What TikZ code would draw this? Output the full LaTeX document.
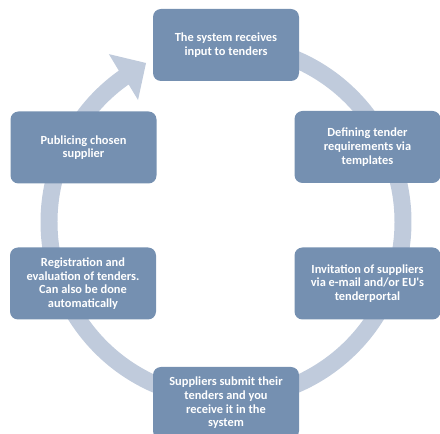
\documentclass[tikz,border=0pt]{standalone}
\usepackage{fontspec}
\setmainfont{Carlito}
\usepackage{tikz}
\usetikzlibrary{positioning}
\definecolor{boxblue}{RGB}{117,144,177}
\definecolor{ringblue}{RGB}{192,203,220}

\begin{document}
\begin{tikzpicture}[x=1pt, y=1pt,
    stage/.style={rectangle, rounded corners=8pt, fill=boxblue, text=white,
        font=\fontsize{12.4}{13.7}\selectfont\bfseries, align=center,
        minimum width=146pt, minimum height=72pt, inner sep=0pt},
    ring/.style={fill=ringblue}]
\path[clip, use as bounding box] (0,0) rectangle (440,434);
\coordinate (hub) at (226,212);
% circular arrow behind the stages
\begin{scope}[shift={(hub)}]
\fill[ring] (85:185.5) arc[start angle=85, end angle=-234.7, radius=185.5]
    -- (-235.1:204.7) -- (-243.3:178) -- (-234.2:150.4)
    -- (-234.7:168.5) arc[start angle=-234.7, end angle=85, radius=168.5] -- cycle;
\end{scope}
% stages
\node[stage] (receive) at (226,389) {The system receives\\input to tenders};
\node[stage] (define) at (367.5,287) {Defining tender\\requirements via\\templates};
\node[stage] (invite) at (367.5,150.5) {Invitation of suppliers\\via e-mail and/or EU\textquotesingle s\\tenderportal};
\node[stage] (submit) at (226,31) {Suppliers submit their\\tenders and you\\receive it in the\\system};
\node[stage] (evaluate) at (83,150.5) {Registration and\\evaluation of tenders.\\Can also be done\\automatically};
\node[stage] (publish) at (83.5,286.5) {Publicing chosen\\supplier};
\end{tikzpicture}
\end{document}
